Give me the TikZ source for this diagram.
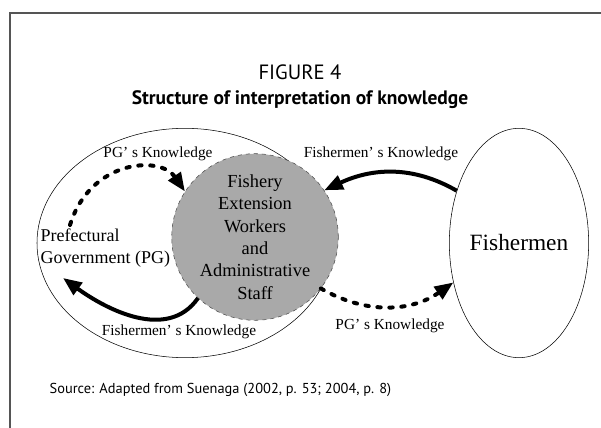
\documentclass[tikz,border=0pt]{standalone}
\usepackage{fontspec}
\setmainfont{Liberation Serif}
\newfontfamily\capfont{PT Sans}
\usetikzlibrary{shapes.geometric,arrows.meta,positioning}

\definecolor{staffgray}{HTML}{A9A9A9}
\definecolor{framegray}{HTML}{555555}

\begin{document}
\begin{tikzpicture}[x=0.75pt,y=-0.75pt,
    knowl/.style={line width=3pt,-{Triangle[length=14pt,width=11pt]}},
    hearsay/.style={knowl,dash pattern=on 2.5pt off 6.5pt,line cap=round},
    lab/.style={font=\fontsize{11.5}{13}\selectfont}]
  \useasboundingbox (0,0) rectangle (601,428);
  \draw[framegray,line width=1.2pt] (10,428) -- (10,13) -- (601,13);

  \node[font=\capfont\fontsize{15.5}{18}\selectfont] (fig) at (300,72) {FIGURE 4};
  \node[font=\capfont\bfseries\fontsize{14.6}{18}\selectfont] (title) at (300,100)
    {Structure of interpretation of knowledge};

  \node[ellipse,draw,inner sep=0pt,minimum width=222pt,minimum height=172pt] (pgzone) at (185,243) {};
  \node[ellipse,draw,inner sep=0pt,minimum width=102pt,minimum height=172pt,
    font=\fontsize{17.5}{20}\selectfont] (fish) at (519,243) {Fishermen};
  \node[circle,draw=black!70,dashed,fill=staffgray,inner sep=0pt,minimum size=112.5pt,
    align=center,font=\fontsize{13.8}{16.8}\selectfont] (few) at (255,237)
    {Fishery\\Extension\\Workers\\and\\Administrative\\Staff};
  \node[align=left,anchor=west,font=\fontsize{13.5}{16.5}\selectfont] (pg) at (36,248)
    {Prefectural\\Government (PG)};

  \coordinate (pgout) at (70,225);
  \coordinate (pgin) at (63,278);

  \draw[hearsay] (pgout) .. controls (90,160) and (160,155) .. (few.147);
  \draw[knowl] (few.-133) to[out=-125,in=-36] (pgin);
  \draw[knowl] (fish.140) to[out=150,in=25] (few.34);
  \draw[hearsay] (few.-38) to[out=-30,in=-145] (fish.-149);

  \node[lab] (pgk1) at (158,154) {PG’ s Knowledge};
  \node[lab] (fk1) at (381,154) {Fishermen’ s Knowledge};
  \node[lab] (fk2) at (179,332) {Fishermen’ s Knowledge};
  \node[lab] (pgk2) at (390,326) {PG’ s Knowledge};

  \node[anchor=west,font=\capfont\fontsize{10.8}{13}\selectfont] (src) at (45,390)
    {Source: Adapted from Suenaga (2002, p. 53; 2004, p. 8)};
\end{tikzpicture}
\end{document}
